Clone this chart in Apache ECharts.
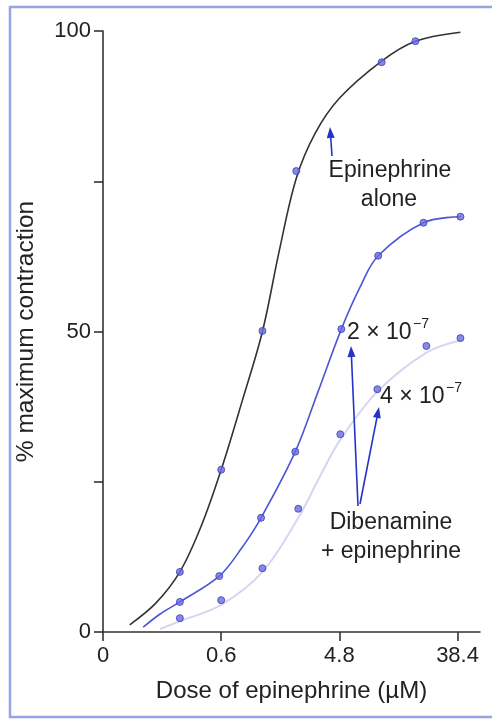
<!DOCTYPE html>
<html><head><meta charset="utf-8">
<script src="https://cdn.jsdelivr.net/npm/echarts@6/dist/echarts.min.js"></script>
<style>html,body{margin:0;padding:0;background:#fff}#c{width:492px;height:720px}</style>
</head><body><div id="c"></div>
<script>
// ---- data (dose in µM, response in % maximum contraction) ----
const xTickDoses = [0.075, 0.6, 4.8, 38.4];   // axis origin is labelled "0"
const xTickLabels = ['0', '0.6', '4.8', '38.4'];
const yTicks = [0, 25, 50, 75, 100];
const yTickLabels = ['0', '', '50', '', '100'];

// Epinephrine alone
const aloneDose = [0.29, 0.6, 1.24, 2.25, 10.1, 18.3];
const aloneResp = [10.0, 27.0, 50.1, 76.7, 94.8, 98.3];
const aloneCurveDose = [0.12, 0.19, 0.29, 0.42, 0.6, 0.87, 1.24, 1.67, 2.25, 3.14, 4.8, 10.1, 18.3, 40.4];
const aloneCurveResp = [1.2, 4.8, 10.0, 17.5, 27.0, 38.5, 50.0, 63.5, 75.5, 83.0, 88.8, 95.0, 98.3, 99.8];

// Dibenamine 2 x 10^-7 + epinephrine
const dib2Dose = [0.29, 0.58, 1.21, 2.21, 4.97, 9.5, 21.1, 40.4];
const dib2Resp = [5.0, 9.3, 19.0, 30.0, 50.4, 62.6, 68.1, 69.1];
const dib2CurveDose = [0.152, 0.205, 0.29, 0.58, 0.85, 1.21, 2.21, 3.3, 4.97, 6.95, 9.5, 21.1, 40.4];
const dib2CurveResp = [0.8, 3.0, 5.0, 9.3, 13.8, 19.0, 30.0, 40.0, 50.4, 57.5, 62.6, 68.1, 69.1];

// Dibenamine 4 x 10^-7 + epinephrine
const dib4Dose = [0.29, 0.6, 1.24, 2.33, 4.88, 9.37, 22.2, 40.4];
const dib4Resp = [2.3, 5.3, 10.6, 20.5, 32.9, 40.4, 47.6, 48.9];
const dib4CurveDose = [0.205, 0.29, 0.6, 1.24, 2.33, 3.43, 4.88, 9.37, 22.2, 40.4];
const dib4CurveResp = [0.5, 1.8, 4.5, 10.0, 19.0, 26.0, 32.0, 40.0, 46.5, 48.5];

// ---- helpers ----
const BASE = xTickDoses[0];
const toU = d => Math.log(d / BASE) / Math.log(8);   // log-8 dose axis position
const pairs = (xs, ys) => xs.map((x, i) => [toU(x), ys[i]]);
const xTickU = xTickDoses.map(toU);
const FONT = '"Liberation Sans", Arial, Helvetica, sans-serif';
const TXT = '#222';
const ARROW = '#2333c9';

function arrow(x1, y1, x2, y2) {
  const dx = x2 - x1, dy = y2 - y1, L = Math.hypot(dx, dy);
  const ux = dx / L, uy = dy / L, hl = 11, hw = 4;
  const bx = x2 - ux * hl, by = y2 - uy * hl;
  return [
    { type: 'line', shape: { x1, y1, x2: bx + ux * 2, y2: by + uy * 2 }, style: { stroke: ARROW, lineWidth: 1.6 }, z: 20 },
    { type: 'polygon', shape: { points: [[x2, y2], [bx - uy * hw, by + ux * hw], [bx + uy * hw, by - ux * hw]] }, style: { fill: ARROW }, z: 20 }
  ];
}
function txt(x, y, s, size, align) {
  return { type: 'text', x, y, z: 20, style: { text: s, font: size + 'px ' + FONT, fill: TXT, align: align || 'center', verticalAlign: 'middle' } };
}

const chart = echarts.init(document.getElementById('c'), null, { renderer: 'canvas' });
const markerStyle = { color: '#6a6ade', borderColor: '#3b3bbf', borderWidth: 1 };

chart.setOption({
  animation: false,
  backgroundColor: '#fff',
  grid: { left: 103, right: 12, top: 31, bottom: 88 },
  xAxis: {
    type: 'value', min: 0, max: 3.19,
    name: 'Dose of epinephrine (µM)', nameLocation: 'middle', nameGap: 47,
    nameTextStyle: { fontFamily: FONT, fontSize: 24, color: TXT },
    axisLine: { lineStyle: { color: '#333', width: 1.6 } },
    axisTick: { customValues: xTickU, length: 9, lineStyle: { color: '#333', width: 1.6 } },
    axisLabel: {
      customValues: xTickU, margin: 13, fontFamily: FONT, fontSize: 22, color: TXT,
      formatter: v => { const i = xTickU.findIndex(t => Math.abs(t - v) < 1e-6); return i >= 0 ? xTickLabels[i] : ''; }
    },
    splitLine: { show: false }
  },
  yAxis: {
    type: 'value', min: 0, max: 100, interval: 25,
    name: '% maximum contraction', nameLocation: 'middle', nameGap: 64,
    nameTextStyle: { fontFamily: FONT, fontSize: 24.5, color: TXT },
    axisLine: { show: true, lineStyle: { color: '#333', width: 1.6 } },
    axisTick: { show: true, length: 9, lineStyle: { color: '#333', width: 1.6 } },
    axisLabel: {
      margin: 12, fontFamily: FONT, fontSize: 22, color: TXT,
      formatter: v => { const i = yTicks.indexOf(v); return i >= 0 ? yTickLabels[i] : ''; }
    },
    splitLine: { show: false }
  },
  series: [
    { name: 'Dibenamine 4×10⁻⁷ curve', type: 'line', smooth: 0.35, showSymbol: false, data: pairs(dib4CurveDose, dib4CurveResp), lineStyle: { color: '#d6d6f1', width: 2 }, z: 2 },
    { name: 'Dibenamine 2×10⁻⁷ curve', type: 'line', smooth: 0.35, showSymbol: false, data: pairs(dib2CurveDose, dib2CurveResp), lineStyle: { color: '#4b55d6', width: 1.6 }, z: 3 },
    { name: 'Epinephrine alone curve', type: 'line', smooth: 0.35, showSymbol: false, data: pairs(aloneCurveDose, aloneCurveResp), lineStyle: { color: '#333', width: 1.6 }, z: 4 },
    { name: 'Dibenamine 4×10⁻⁷', type: 'scatter', symbol: 'circle', symbolSize: 7, data: pairs(dib4Dose, dib4Resp), itemStyle: markerStyle, z: 5 },
    { name: 'Dibenamine 2×10⁻⁷', type: 'scatter', symbol: 'circle', symbolSize: 7, data: pairs(dib2Dose, dib2Resp), itemStyle: markerStyle, z: 5 },
    { name: 'Epinephrine alone', type: 'scatter', symbol: 'circle', symbolSize: 7, data: pairs(aloneDose, aloneResp), itemStyle: markerStyle, z: 5 }
  ],
  graphic: [
    { type: 'rect', shape: { x: 10, y: 7, width: 520, height: 710 }, style: { fill: 'none', stroke: '#97a4e4', lineWidth: 2.5 }, z: 1, silent: true },
    txt(390, 171, 'Epinephrine', 23),
    txt(389, 200, 'alone', 23),
    ...arrow(332, 156, 330, 127),
    txt(347, 333, '2 × 10', 23, 'left'),
    txt(413, 324, '−7', 14, 'left'),
    txt(380, 397, '4 × 10', 23, 'left'),
    txt(446, 388, '−7', 14, 'left'),
    ...arrow(358, 506, 351, 346),
    ...arrow(360, 504, 379, 407),
    txt(391, 523, 'Dibenamine', 23),
    txt(391, 552, '+ epinephrine', 23)
  ]
});
</script>
</body></html>
